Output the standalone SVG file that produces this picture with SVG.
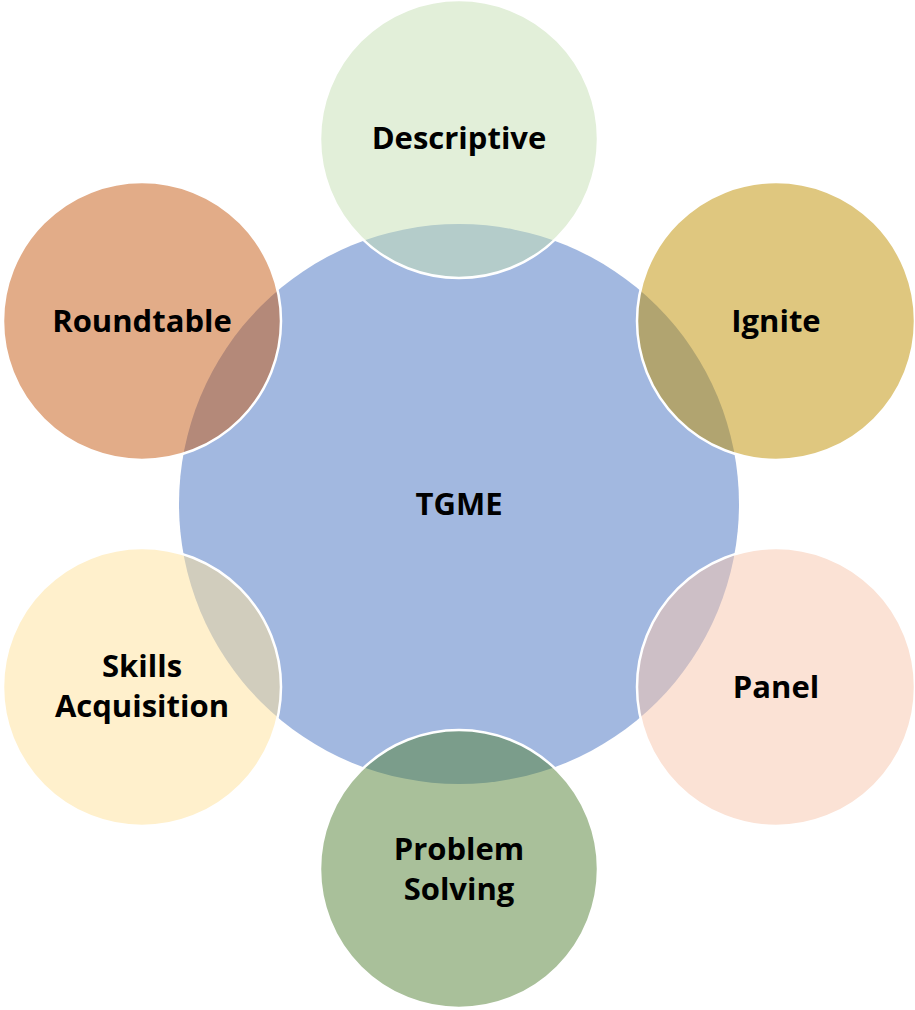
<svg xmlns="http://www.w3.org/2000/svg" width="915" height="1010" viewBox="0 0 915 1010">
<style>
.sat{stroke:#fff;stroke-width:2.5;fill-opacity:0.5}
text{font-family:"Open Sans","Liberation Sans",sans-serif;font-weight:bold;font-size:31px;fill:#000;text-anchor:middle;dominant-baseline:central}
</style>
<rect width="915" height="1010" fill="#fff"/>
<g id="connectors"></g>
<g id="center"><circle cx="459" cy="504" r="280" fill="#A2B8E0"/><text x="459" y="503">TGME</text></g>
<g id="descriptive"><circle class="sat" cx="459" cy="139" r="139" fill="#C5E0B4"/><text x="459" y="137">Descriptive</text></g>
<g id="ignite"><circle class="sat" cx="776" cy="321" r="139" fill="#BF8F00"/><text x="776" y="320">Ignite</text></g>
<g id="panel"><circle class="sat" cx="776" cy="687" r="139" fill="#F8C6AB"/><text x="776" y="686">Panel</text></g>
<g id="problem"><circle class="sat" cx="459" cy="869" r="139" fill="#538135"/><text x="459" y="848">Problem</text><text x="459" y="888">Solving</text></g>
<g id="skills"><circle class="sat" cx="142" cy="687" r="139" fill="#FFE29A"/><text x="142" y="665">Skills</text><text x="142" y="705">Acquisition</text></g>
<g id="roundtable"><circle class="sat" cx="142" cy="321" r="139" fill="#C55A11"/><text x="142" y="320">Roundtable</text></g>
</svg>
